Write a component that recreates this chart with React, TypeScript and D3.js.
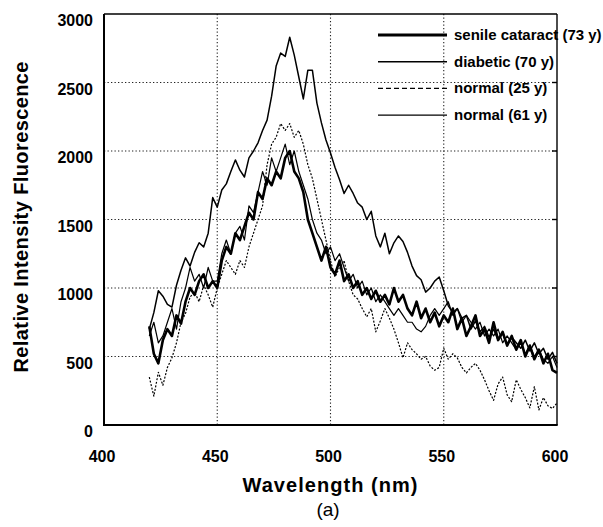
import * as d3 from "d3";

// wavelength grid, 2 nm steps
const wavelengths = d3.range(420, 601, 2);

const senileCataract = [
  720, 520, 450, 620, 700, 650, 800, 740, 900, 1000, 950, 1050, 1100, 1000, 1050, 1000,
  1200, 1300, 1250, 1400, 1350, 1450, 1550, 1500, 1700, 1650, 1800, 1750, 1850, 1800,
  1950, 2000, 1850, 1800, 1700, 1500, 1400, 1300, 1200, 1300, 1150, 1100, 1200, 1050,
  1100, 1000, 1050, 950, 1000, 920, 980, 900, 950, 880, 1000, 900, 950, 850, 800, 900,
  780, 850, 750, 820, 720, 800, 750, 850, 700, 780, 650, 720, 800, 650, 700, 600, 750,
  620, 680, 580, 650, 550, 620, 500, 580, 480, 550, 450, 520, 400, 380,
];

const diabetic = [
  700, 820, 980, 940, 880, 860, 1020, 1130, 1220, 1160, 1260, 1330, 1300, 1400, 1660,
  1590, 1715, 1760, 1850, 1935, 1860, 1810, 1950, 2000, 2060, 2150, 2225, 2400, 2620,
  2715, 2690, 2830, 2700, 2540, 2380, 2590, 2590, 2350, 2205, 2080, 1985, 1880, 1790,
  1690, 1750, 1690, 1620, 1590, 1500, 1560, 1380, 1300, 1400, 1250, 1330, 1380, 1340,
  1260, 1160, 1090, 1060, 970, 1000, 1050, 1080, 980, 870, 820, 850, 780, 800, 700, 760,
  680, 720, 640, 700, 620, 670, 580, 640, 600, 560, 620, 540, 600, 520, 560, 480, 530, 450,
];

const normal25 = [
  350, 210, 385, 290, 420, 490, 600, 750, 815, 935, 970, 900, 1020, 950, 860, 1000, 1100,
  1200, 1150, 1100, 1200, 1150, 1300, 1400, 1500, 1600, 1900, 2050, 2100, 2200, 2150,
  2200, 2100, 2150, 2050, 1900, 1800, 1650, 1500, 1350, 1200, 1080, 1150, 1200, 1050, 950,
  920, 850, 790, 850, 680, 760, 850, 780, 700, 600, 490, 600, 550, 520, 480, 500, 430, 400,
  420, 560, 480, 520, 490, 420, 380, 420, 450, 400, 330, 250, 180, 300, 350, 220, 170, 330,
  260, 200, 125, 280, 110, 200, 140, 120, 160,
];

const normal61 = [
  650, 750, 600, 650, 750, 850, 700, 900, 1000, 1150, 1050, 1100, 1000, 1150, 1050, 1050,
  1250, 1350, 1250, 1400, 1450, 1350, 1600, 1550, 1700, 1850, 1750, 1950, 1850, 1950, 2050,
  1900, 2000, 1850, 1750, 1650, 1500, 1400, 1350, 1250, 1300, 1200, 1250, 1150, 1050, 1100,
  1000, 1050, 950, 1000, 900, 950, 900, 850, 800, 850, 800, 750, 750, 700, 680, 720, 800,
  850, 800, 850, 900, 800, 850, 750, 800, 750, 700, 750, 650, 700, 650, 700, 600, 650, 600,
  550, 600, 520, 580, 500, 550, 480, 450, 500, 420,
];

const seriesNames = ["senile cataract (73 y)", "diabetic (70 y)", "normal (25 y)", "normal (61 y)"];
const seriesValues = [senileCataract, diabetic, normal25, normal61];
const seriesWidth = [2.6, 1.5, 1.2, 1.2];
const seriesDash = [null, null, "2,1.6", null];
const legendDash = [null, null, "5,3", null];

const xTicks = [400, 450, 500, 550, 600];
const yTicks = [0, 500, 1000, 1500, 2000, 2500, 3000];

const W = 603;
const H = 527;
const left = 104;
const right = 557;
const top = 14;
const bottom = 425;

export default function App() {
  const x = d3.scaleLinear().domain([400, 600]).range([left, right]);
  const y = d3.scaleLinear().domain([0, 3000]).range([bottom, top]);
  const font = "'Liberation Sans', Arial, Helvetica, sans-serif";

  const line = d3
    .line<number>()
    .x((_, i) => x(wavelengths[i]))
    .y((d) => y(d));

  return (
    <svg
      width={W}
      height={H}
      viewBox={`0 0 ${W} ${H}`}
      style={{ position: "absolute", left: 0, top: 0, background: "#fff" }}
      fontFamily={font}
    >
      <rect width={W} height={H} fill="#fff" />

      {/* grid */}
      {xTicks.slice(1, -1).map((t) => (
        <line key={"gx" + t} x1={x(t)} x2={x(t)} y1={top} y2={bottom}
          stroke="#222" strokeWidth={1.1} strokeDasharray="1.3,2.2" />
      ))}
      {yTicks.slice(1, -1).map((t) => (
        <line key={"gy" + t} x1={left} x2={right} y1={y(t)} y2={y(t)}
          stroke="#222" strokeWidth={1.1} strokeDasharray="1.3,2.2" />
      ))}

      {/* right side ticks */}
      {yTicks.slice(1, -1).map((t) => (
        <line key={"ty" + t} x1={right - 5} x2={right} y1={y(t)} y2={y(t)} stroke="#000" strokeWidth={1.4} />
      ))}

      {/* series */}
      {seriesValues.map((vals, i) => (
        <path key={seriesNames[i]} d={line(vals) ?? ""} fill="none" stroke="#000"
          strokeWidth={seriesWidth[i]} strokeDasharray={seriesDash[i] ?? undefined}
          strokeLinejoin="round" />
      ))}

      {/* frame */}
      <line x1={left} x2={right} y1={top} y2={top} stroke="#000" strokeWidth={1.4} />
      <line x1={right} x2={right} y1={top} y2={bottom} stroke="#000" strokeWidth={1.4} />
      <line x1={left} x2={left} y1={top} y2={bottom + 1} stroke="#000" strokeWidth={2} />
      <line x1={left - 1} x2={right + 0.7} y1={bottom} y2={bottom} stroke="#000" strokeWidth={2} />

      {/* y tick labels */}
      {yTicks.map((t) => (
        <text key={"ly" + t} x={93} y={y(t) + 12} textAnchor="end" fontSize={16} fontWeight="bold">
          {t}
        </text>
      ))}
      {/* x tick labels */}
      {xTicks.map((t) => (
        <text key={"lx" + t} x={x(t) - 2} y={462} textAnchor="middle" fontSize={16} fontWeight="bold">
          {t}
        </text>
      ))}

      <text x={330} y={492} textAnchor="middle" fontSize={20} fontWeight="bold" textLength={175}>
        Wavelength (nm)
      </text>
      <text x={328} y={516} textAnchor="middle" fontSize={19}>
        (a)
      </text>
      <text transform={`translate(28,217) rotate(-90)`} textAnchor="middle" fontSize={20}
        fontWeight="bold" textLength={311}>
        Relative Intensity Fluorescence
      </text>

      {/* legend */}
      {seriesNames.map((name, i) => {
        const ly = 35 + i * 26.7;
        return (
          <g key={"lg" + name}>
            <line x1={378} x2={447} y1={ly} y2={ly} stroke="#000"
              strokeWidth={i === 0 ? 3 : i === 1 ? 1.6 : 1.3}
              strokeDasharray={legendDash[i] ?? undefined} />
            <text x={454} y={ly + 5} fontSize={15} fontWeight="bold">
              {name}
            </text>
          </g>
        );
      })}
    </svg>
  );
}
